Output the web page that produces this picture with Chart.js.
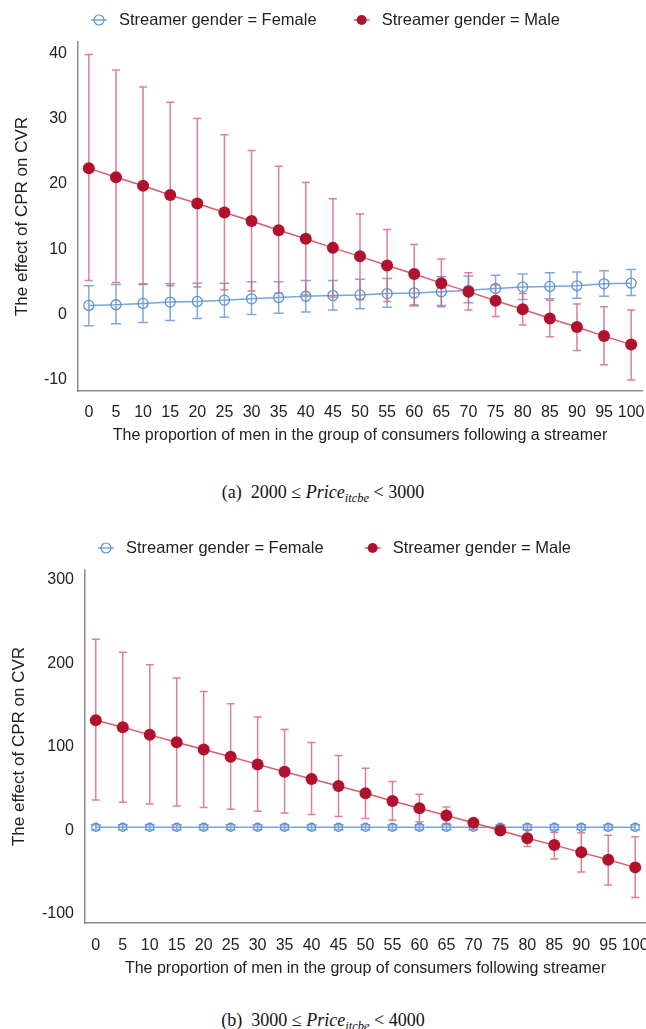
<!DOCTYPE html>
<html>
<head>
<meta charset="utf-8">
<script src="https://cdn.jsdelivr.net/npm/chart.js@4.4.1/dist/chart.umd.min.js"></script>
<style>
  html, body { margin: 0; padding: 0; background: #fff; }
  body { width: 646px; height: 1029px; position: relative; overflow: hidden; }
  .panel { position: absolute; left: 0; width: 646px; }
  .caption { position: absolute; left: 0; width: 646px; text-align: center;
             font-family: "Liberation Serif", "Times New Roman", serif; font-size: 18px; color: #111; line-height: 20px; }
  .caption sub { font-size: 12.5px; line-height: 0; vertical-align: -4px; }
</style>
</head>
<body>
<div class="panel" style="top:0;height:460px"><canvas id="chartA" width="646" height="460"></canvas></div>
<div class="caption" style="top:482px">(a)&nbsp;&nbsp;2000 ≤ <i>Price<sub>itcbe</sub></i> &lt; 3000</div>
<div class="panel" style="top:530px;height:460px"><canvas id="chartB" width="646" height="460"></canvas></div>
<div class="caption" style="top:1010px">(b)&nbsp;&nbsp;3000 ≤ <i>Price<sub>itcbe</sub></i> &lt; 4000</div>

<script>
// x: share of men among followers (%)
const proportion = [0, 5, 10, 15, 20, 25, 30, 35, 40, 45, 50, 55, 60, 65, 70, 75, 80, 85, 90, 95, 100];
const xTicks = proportion;

// panel (a) 2000 <= price < 3000
const femaleA     = [1.4, 1.5, 1.7, 1.9, 2.0, 2.2, 2.4, 2.6, 2.8, 2.9, 3.0, 3.2, 3.3, 3.5, 3.7, 4.0, 4.2, 4.3, 4.4, 4.7, 4.8];
const femaleAHigh = [4.4, 4.6, 4.6, 4.7, 4.8, 4.8, 5.0, 5.0, 5.2, 5.2, 5.4, 5.5, 5.8, 5.8, 5.9, 6.0, 6.2, 6.4, 6.5, 6.7, 6.9];
const femaleALow  = [-1.7, -1.4, -1.2, -0.9, -0.6, -0.4, 0.0, 0.2, 0.4, 0.7, 0.9, 1.1, 1.3, 1.4, 1.8, 2.1, 2.3, 2.4, 2.5, 2.8, 2.9];
const maleA       = [22.4, 21.0, 19.7, 18.3, 17.0, 15.6, 14.3, 12.9, 11.6, 10.2, 8.9, 7.5, 6.2, 4.8, 3.5, 2.1, 0.8, -0.6, -1.9, -3.3, -4.6];
const maleAHigh   = [39.8, 37.4, 34.8, 32.5, 30.0, 27.5, 25.1, 22.7, 20.2, 17.7, 15.4, 13.0, 10.7, 8.5, 6.4, 4.5, 3.2, 2.2, 1.6, 1.2, 0.7];
const maleALow    = [5.2, 4.9, 4.7, 4.4, 4.2, 3.8, 3.6, 3.3, 3.0, 2.7, 2.3, 2.0, 1.5, 1.2, 0.7, -0.3, -1.6, -3.4, -5.5, -7.7, -10.0];
const yTicksA = [-10, 0, 10, 20, 30, 40];

// panel (b) 3000 <= price < 4000
const femaleB     = [3.5, 3.5, 3.5, 3.5, 3.5, 3.5, 3.5, 3.5, 3.5, 3.5, 3.5, 3.5, 3.5, 3.5, 3.5, 3.5, 3.5, 3.5, 3.5, 3.5, 3.5];
const femaleBHigh = [6.5, 6.5, 6.5, 6.5, 6.5, 6.5, 6.5, 6.5, 6.5, 6.5, 6.5, 6.5, 6.5, 6.5, 6.5, 6.5, 6.5, 6.5, 6.5, 6.5, 6.5];
const femaleBLow  = [0.5, 0.5, 0.5, 0.5, 0.5, 0.5, 0.5, 0.5, 0.5, 0.5, 0.5, 0.5, 0.5, 0.5, 0.5, 0.5, 0.5, 0.5, 0.5, 0.5, 0.5];
const maleB       = [131.8, 123.4, 114.3, 105.5, 96.8, 88.0, 78.9, 70.1, 61.3, 52.9, 44.2, 35.0, 26.3, 17.5, 8.8, -0.4, -9.6, -17.9, -26.6, -35.4, -44.6];
const maleBHigh   = [229.0, 213.5, 198.3, 182.4, 166.4, 151.7, 135.8, 120.7, 105.1, 89.6, 74.4, 58.5, 43.0, 27.8, 12.5, 3.5, 0.4, -2.4, -3.2, -6.0, -7.9];
const maleBLow    = [36.2, 33.4, 31.5, 29.0, 27.1, 25.1, 22.7, 20.7, 18.7, 16.3, 14.0, 11.9, 9.9, 8.0, 5.0, -4.3, -19.5, -34.6, -50.2, -65.7, -80.6];
const yTicksB = [-100, 0, 100, 200, 300];

const labelFemale = "Streamer gender = Female";
const labelMale = "Streamer gender = Male";

Chart.defaults.font.family = '"Liberation Sans", Arial, sans-serif';
Chart.defaults.color = "#222";

// vertical error bars with caps, drawn under the lines/points
const errorBars = {
  id: "errorBars",
  beforeDatasetsDraw(chart) {
    const { ctx, scales: { x, y } } = chart;
    chart.data.datasets.forEach((ds) => {
      if (!ds.errHigh) return;
      ctx.save();
      ctx.strokeStyle = ds.errColor;
      ctx.lineWidth = 1.5;
      ds.data.forEach((pt, i) => {
        const px = x.getPixelForValue(pt.x);
        const top = y.getPixelForValue(ds.errHigh[i]);
        const bot = y.getPixelForValue(ds.errLow[i]);
        const c = ds.capHalf;
        ctx.beginPath();
        ctx.moveTo(px, top); ctx.lineTo(px, bot);
        ctx.moveTo(px - c, top); ctx.lineTo(px + c, top);
        ctx.moveTo(px - c, bot); ctx.lineTo(px + c, bot);
        ctx.stroke();
      });
      ctx.restore();
    });
  }
};

// legend row above the plot: line + marker, then text
const topLegend = {
  id: "topLegend",
  afterDraw(chart, args, opts) {
    const ctx = chart.ctx;
    let x = opts.x;
    const y = opts.y;
    ctx.save();
    ctx.font = '16.5px "Liberation Sans", Arial, sans-serif';
    ctx.textBaseline = "middle";
    chart.data.datasets.forEach((ds) => {
      ctx.strokeStyle = ds.borderColor;
      ctx.lineWidth = 1.5;
      ctx.beginPath();
      ctx.moveTo(x, y); ctx.lineTo(x + 16, y);
      ctx.stroke();
      ctx.beginPath();
      ctx.arc(x + 8, y, 5, 0, Math.PI * 2);
      if (ds.hollow) {
        ctx.strokeStyle = ds.pointBorderColor;
        ctx.lineWidth = 1.2;
        ctx.stroke();
      } else {
        ctx.fillStyle = ds.pointBackgroundColor;
        ctx.fill();
      }
      ctx.fillStyle = "#222";
      ctx.fillText(ds.label, x + 28, y);
      x += 28 + ctx.measureText(ds.label).width + opts.gap;
    });
    ctx.restore();
  }
};

function toPoints(vals) {
  return vals.map((v, i) => ({ x: proportion[i], y: v }));
}

function makeChart(id, p) {
  return new Chart(document.getElementById(id), {
    type: "line",
    data: {
      datasets: [
        {
          label: labelFemale,
          data: toPoints(p.female),
          errHigh: p.femaleHigh,
          errLow: p.femaleLow,
          errColor: "rgba(105,155,212,0.85)",
          capHalf: 5,
          hollow: true,
          borderColor: "rgba(110,160,215,0.95)",
          borderWidth: 1.5,
          pointStyle: "circle",
          pointRadius: p.femaleRadius,
          pointBorderWidth: 1.3,
          pointBorderColor: "rgba(95,145,205,1)",
          pointBackgroundColor: "rgba(255,255,255,0)",
          tension: 0,
          order: 1
        },
        {
          label: labelMale,
          data: toPoints(p.male),
          errHigh: p.maleHigh,
          errLow: p.maleLow,
          errColor: "rgba(218,105,125,0.85)",
          capHalf: 4,
          borderColor: "rgba(210,75,98,0.9)",
          borderWidth: 1.5,
          pointStyle: "circle",
          pointRadius: 6,
          pointBorderWidth: 0,
          pointBackgroundColor: "#b0122e",
          tension: 0,
          order: 0
        }
      ]
    },
    options: {
      responsive: false,
      animation: false,
      events: [],
      layout: { autoPadding: false, padding: { top: p.top, right: p.right, left: 0, bottom: 0 } },
      plugins: {
        legend: { display: false },
        tooltip: { enabled: false },
        topLegend: { x: p.legendX, y: p.legendY, gap: p.legendGap }
      },
      scales: {
        x: {
          type: "linear",
          min: -2,
          max: 102,
          afterBuildTicks: (s) => { s.ticks = xTicks.map((v) => ({ value: v })); },
          afterFit: (s) => { s.height = p.xHeight; s.paddingRight = 0; s.paddingLeft = 0; },
          grid: { display: false, drawTicks: false },
          border: { display: true, color: "#8c8c8c", width: 1.5 },
          ticks: { autoSkip: false, maxRotation: 0, padding: p.xTickPad, font: { size: 16 }, color: "#222" },
          title: {
            display: true,
            text: p.xTitle,
            font: { size: 16 },
            color: "#222",
            padding: { top: 0, bottom: p.xTitlePad }
          }
        },
        y: {
          min: p.yMin,
          max: p.yMax,
          afterBuildTicks: (s) => { s.ticks = p.yTicks.map((v) => ({ value: v })); },
          afterFit: (s) => { s.width = p.yWidth; },
          grid: { display: false, drawTicks: false },
          border: { display: true, color: "#8c8c8c", width: 1.5 },
          ticks: { padding: 11, font: { size: 16 }, color: "#222" },
          title: {
            display: true,
            text: "The effect of CPR on CVR",
            font: { size: 17 },
            color: "#222",
            padding: { top: p.yTitlePad, bottom: 0 }
          }
        }
      }
    },
    plugins: [errorBars, topLegend]
  });
}

makeChart("chartA", {
  female: femaleA, femaleHigh: femaleAHigh, femaleLow: femaleALow, femaleRadius: 5,
  male: maleA, maleHigh: maleAHigh, maleLow: maleALow,
  yMin: -11.7, yMax: 41.7, yTicks: yTicksA,
  top: 42, right: 4, yWidth: 78, xHeight: 69,
  xTickPad: 12, xTitlePad: 15, yTitlePad: 12,
  legendX: 91, legendY: 20, legendGap: 37,
  xTitle: "The proportion of men in the group of consumers following a streamer"
});

makeChart("chartB", {
  female: femaleB, femaleHigh: femaleBHigh, femaleLow: femaleBLow, femaleRadius: 4,
  male: maleB, maleHigh: maleBHigh, maleLow: maleBLow,
  yMin: -111.3, yMax: 312, yTicks: yTicksB,
  top: 40, right: 0, yWidth: 85, xHeight: 67,
  xTickPad: 13, xTitlePad: 12, yTitlePad: 9,
  legendX: 98, legendY: 18, legendGap: 41,
  xTitle: "The proportion of men in the group of consumers following streamer"
});
</script>
</body>
</html>
